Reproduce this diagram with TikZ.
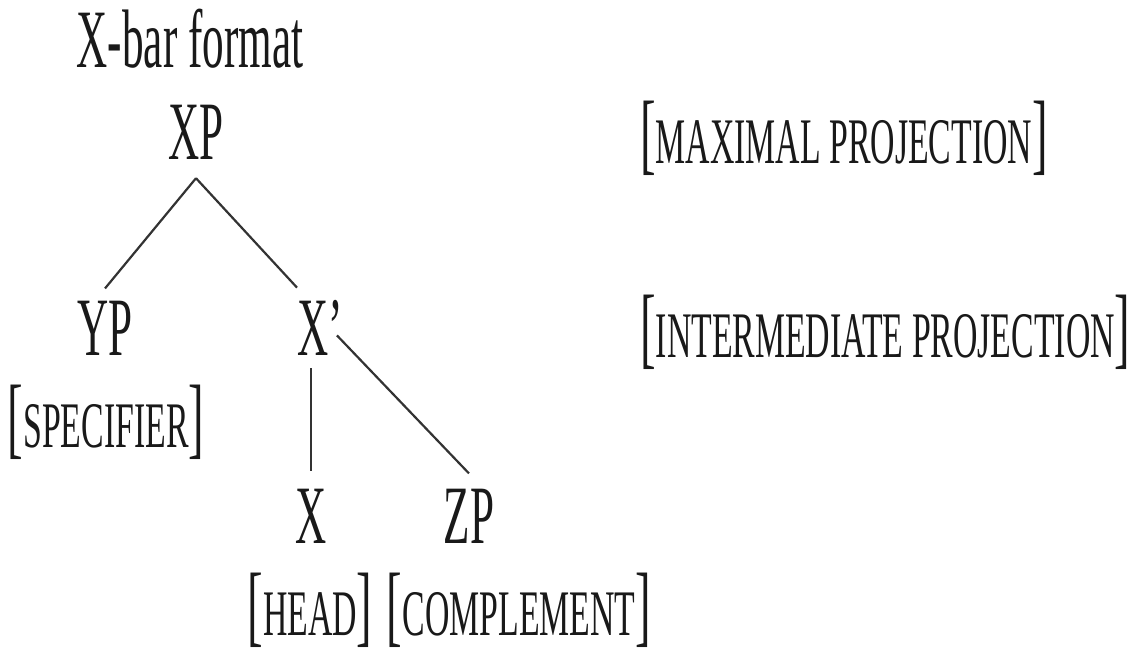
\documentclass[tikz,border=0pt]{standalone}
\usepackage{fontspec}
\setmainfont[FakeStretch=0.52]{Liberation Serif}
\usetikzlibrary{calc}
\newcommand\bkl{{\fontsize{90}{90}\selectfont[}}
\newcommand\bkr{{\fontsize{90}{90}\selectfont]}}
\tikzset{
  big/.style={inner sep=0pt, anchor=base, text=black!90, font=\fontsize{83}{83}\selectfont},
  lab/.style={inner sep=0pt, anchor=base, text=black!90, font=\fontsize{65}{65}\selectfont},
  edge/.style={line width=2.2pt, draw=black!80}
}
\begin{document}
\begin{tikzpicture}[x=1pt,y=-1pt]
\useasboundingbox (0,0) rectangle (1141,655);
\node[big] (title) at (190,68) {X-bar format};
\node[big] (XP) at (196,160) {XP};
\node[big] (YP) at (105,355) {YP};
\node[big,anchor=base west] (Xb) at (297,355) {X’};
\node[lab] (spec) at (106,447) {\bkl SPECIFIER\bkr};
\node[big] (X) at (311,543) {X};
\node[big] (ZP) at (469,543) {ZP};
\node[lab] (head) at (310,635) {\bkl HEAD\bkr};
\node[lab] (comp) at (519,635) {\bkl COMPLEMENT\bkr};
\node[lab,anchor=base west] (max) at (640,164) {\bkl MAXIMAL PROJECTION\bkr};
\node[lab,anchor=base west] (inter) at (640,357) {\bkl INTERMEDIATE PROJECTION\bkr};
\draw[edge] ([yshift=-18pt]XP.south) -- ([yshift=12pt]YP.north);
\draw[edge] ([yshift=-18pt]XP.south) -- ([yshift=12pt]Xb.north west);
\draw[edge] ([yshift=-13pt]X.north |- Xb.south) -- ([yshift=17pt]X.north);
\draw[edge] ([xshift=-6pt,yshift=-8pt]Xb.east) -- ([yshift=15pt]ZP.north);
\end{tikzpicture}
\end{document}
